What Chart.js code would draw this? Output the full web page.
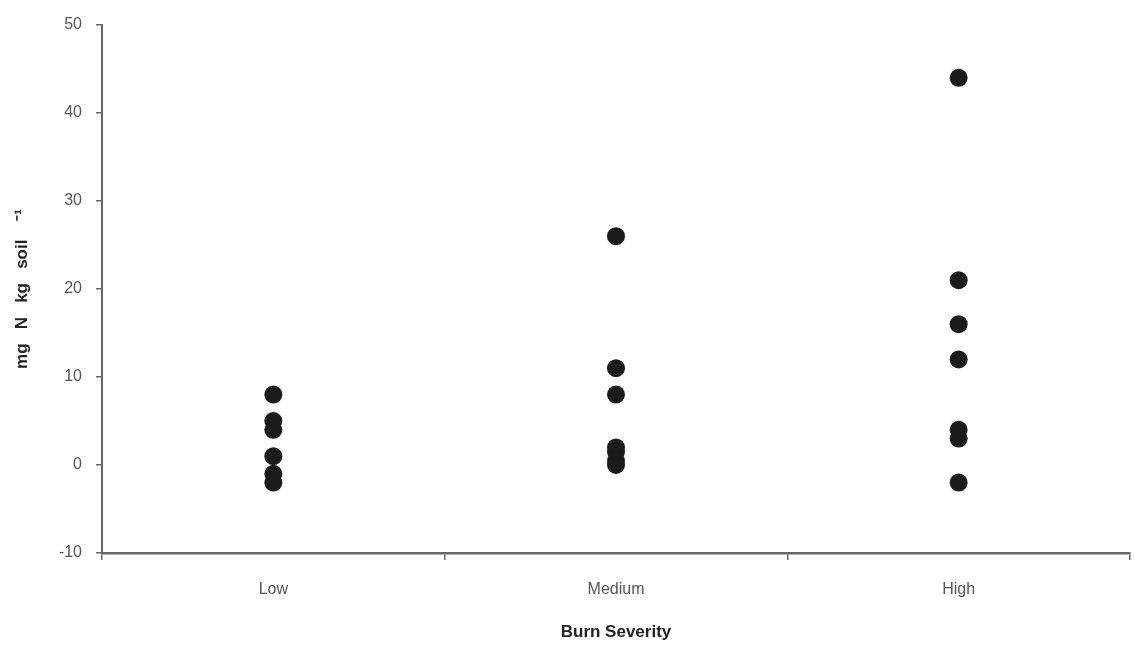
<!DOCTYPE html>
<html>
<head>
<meta charset="utf-8">
<script src="https://cdn.jsdelivr.net/npm/chart.js@4/dist/chart.umd.min.js"></script>
<style>
html,body{margin:0;padding:0;background:#fff;}
#wrap{width:1135px;height:650px;position:relative;}
</style>
</head>
<body>
<div id="wrap"><canvas id="c" width="1135" height="650"></canvas></div>
<script>
const categories = ['Low', 'Medium', 'High'];
const lowValues = [8, 5, 4, 1, -1, -2];
const mediumValues = [26, 11, 8, 2, 1.5, 0.5, 0];
const highValues = [44, 21, 16, 12, 4, 3, -2];
const yTicks = [-10, 0, 10, 20, 30, 40, 50];
const xTitle = 'Burn Severity';
const yTitle = 'mg   N   kg   soil    \u207B\u00B9';

const seriesByCategory = [lowValues, mediumValues, highValues];
const points = [];
seriesByCategory.forEach((vals, i) => vals.forEach(v => points.push({x: categories[i], y: v})));

const FONT = '"Liberation Sans", Arial, sans-serif';

new Chart(document.getElementById('c'), {
  type: 'line',
  data: {
    labels: categories,
    datasets: [{
      data: points,
      showLine: false,
      pointRadius: 9,
      pointHoverRadius: 9,
      pointBackgroundColor: '#1b1b1b',
      pointBorderColor: '#1b1b1b',
      pointBorderWidth: 0
    }]
  },
  options: {
    responsive: false,
    animation: false,
    events: [],
    layout: { autoPadding: false, padding: { left: 0, right: 5, top: 25, bottom: 0 } },
    plugins: { legend: { display: false }, tooltip: { enabled: false } },
    scales: {
      x: {
        type: 'category',
        offset: true,
        grid: { display: true, drawOnChartArea: false, offset: true, tickLength: 7, color: '#666', lineWidth: 1.5 },
        border: { display: true, color: '#666', width: 2.5 },
        ticks: { color: '#555', font: { family: FONT, size: 16 }, padding: 20 },
        title: { display: true, text: xTitle, color: '#222', font: { family: FONT, size: 17, weight: 'bold' }, padding: { top: 0, bottom: 7 } },
        afterFit: s => { s.height = 97; s.paddingRight = 0; s.paddingLeft = 0; }
      },
      y: {
        min: -10,
        max: 50,
        afterBuildTicks: s => { s.ticks = yTicks.map(v => ({ value: v })); },
        grid: { display: true, drawOnChartArea: false, tickLength: 6, color: '#666', lineWidth: 1.5 },
        border: { display: true, color: '#666', width: 2 },
        ticks: { color: '#555', font: { family: FONT, size: 16 }, padding: 14 },
        title: { display: true, text: yTitle, color: '#222', font: { family: FONT, size: 17, weight: 'bold' }, padding: { top: 12, bottom: 0 } },
        afterFit: s => { s.width = 102; }
      }
    }
  }
});
</script>
</body>
</html>
